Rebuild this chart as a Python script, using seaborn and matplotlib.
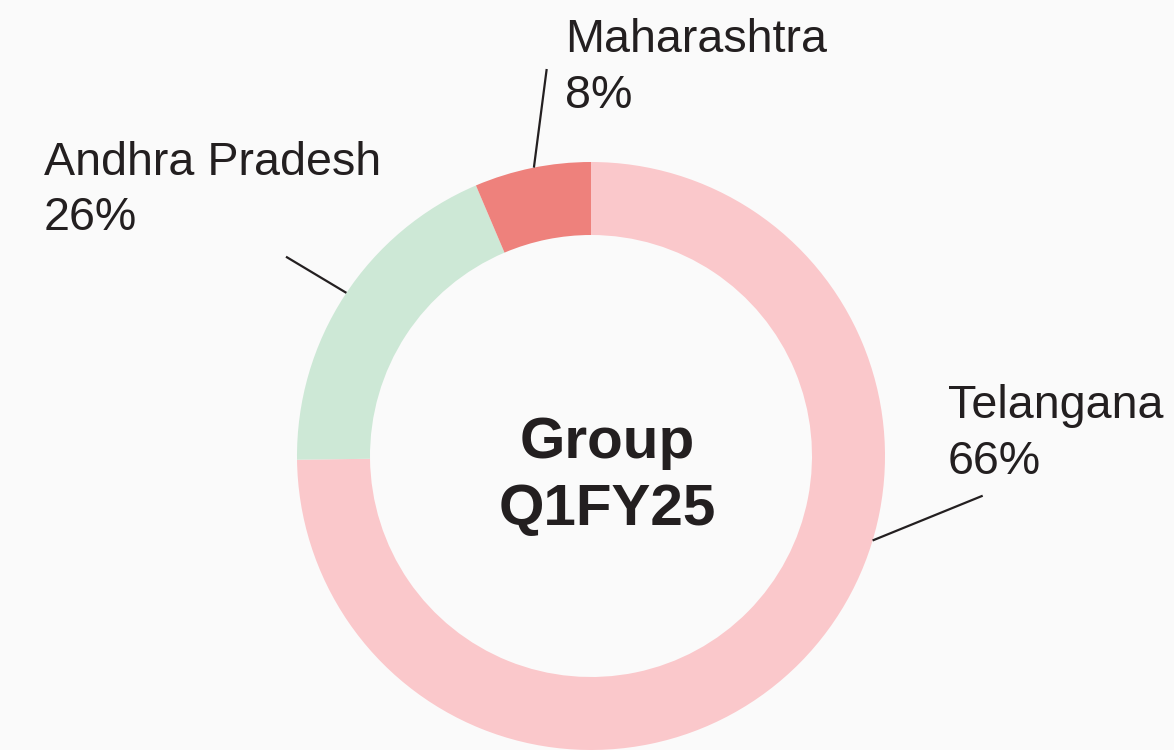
import numpy as np
import seaborn as sns
import matplotlib.pyplot as plt

sns.set_theme(style="white")
plt.rcParams["font.family"] = ["Liberation Sans", "DejaVu Sans"]

# data
states = ["Telangana", "Andhra Pradesh", "Maharashtra"]
label_pct = ["66%", "26%", "8%"]
# ring segments as drawn (share of the full circle)
drawn_share = [74.8, 18.8, 6.4]
colors = ["#FAC8CB", "#CDE8D6", "#EE817C"]
center_text = ["Group", "Q1FY25"]

ink = "#231F20"
bg = "#FAFAFA"
W, H = 1174, 750

fig = plt.figure(figsize=(W / 100, H / 100), dpi=100, facecolor=bg)
ax = fig.add_axes([0, 0, 1, 1])
ax.set_facecolor(bg)

# pixel-like coordinates, y measured from the bottom
cx, cy, r, ring = 591, H - 456, 294, 73
ax.pie(drawn_share, colors=colors, startangle=90, counterclock=False,
       center=(cx, cy), radius=r,
       wedgeprops=dict(width=ring, linewidth=0))
ax.set_xlim(0, W)
ax.set_ylim(0, H)
ax.set_aspect("equal")
ax.axis("off")

# label blocks: (x, baseline of name, baseline of pct) in image pixels
label_pos = [(948, 418, 474), (44, 175, 230), (565, 52, 108)]
for name, pct, (x, y1, y2) in zip(states, label_pct, label_pos):
    ax.text(x, H - y1, name, fontsize=33.6, color=ink, va="baseline", ha="left")
    ax.text(x, H - y2, pct, fontsize=33.6, color=ink, va="baseline", ha="left")

# leader lines: ring anchor angle (clockwise from top) and outer end point
anchor_deg = [106.7, 303.7, 348.8]
line_end = [(982.7, 495.7), (286, 256.7), (546.7, 69)]
for a, (ex, ey) in zip(anchor_deg, line_end):
    t = np.deg2rad(a)
    px, py = cx + r * np.sin(t), cy + r * np.cos(t)
    ax.plot([px, ex], [py, H - ey], color=ink, lw=1.6, solid_capstyle="butt")

ax.text(607, H - 458, center_text[0], fontsize=42, fontweight="bold",
        color=ink, ha="center", va="baseline")
ax.text(607, H - 525, center_text[1], fontsize=42, fontweight="bold",
        color=ink, ha="center", va="baseline")

fig.savefig("out.png", dpi=100, facecolor=bg)
